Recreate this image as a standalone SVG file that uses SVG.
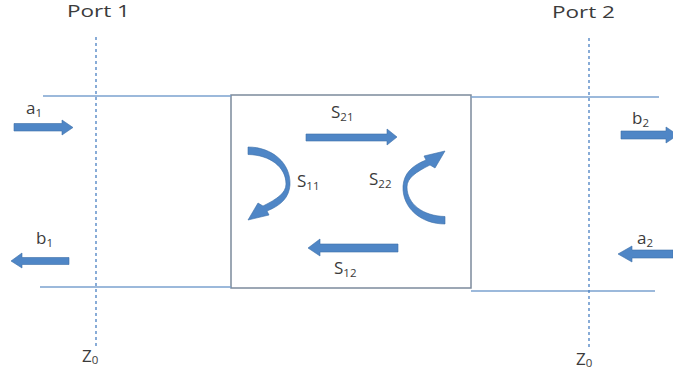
<svg xmlns="http://www.w3.org/2000/svg" width="673" height="378" viewBox="0 0 673 378">
<style>
text{font-family:"Open Sans","Liberation Sans",sans-serif;fill:#3b3b3b;font-size:17px}
.sub{font-size:11.5px}
.tl{stroke:#7ba2cf;stroke-width:1.3;fill:none}
.dash{stroke:#4a80c2;stroke-width:1.3;stroke-dasharray:3 3;fill:none}
.arr{fill:#4f86c6;stroke:#3d6ea8;stroke-width:0.6}
.box{fill:none;stroke:#7c8a9c;stroke-width:1.5}
</style>
<defs>
<path id="curv" class="arr" d="M248,147 C272,147 291,163 290,185 C289,197 282,205 267,211 L269,215 L248,220 L258,203 L263,206 C277,199 286,193 286,184 C286,167 270,155 248,154.5 Z"/>
</defs>
<rect width="673" height="378" fill="#fff"/>
<g id="network">
<rect class="box" x="231" y="95" width="240" height="193"/>
</g>
<g id="connectors">
<line class="tl" x1="43" y1="96" x2="231" y2="96"/>
<line class="tl" x1="471" y1="97" x2="659" y2="97"/>
<line class="tl" x1="40" y1="287" x2="231" y2="287"/>
<line class="tl" x1="471" y1="291" x2="655" y2="291"/>
<line class="dash" x1="96" y1="37" x2="96" y2="348"/>
<line class="dash" x1="589" y1="38" x2="589" y2="350"/>
<polygon id="arr-a1" class="arr" points="14,123.5 62,123.5 62,120 73,127.5 62,135 62,131 14,131"/>
<polygon id="arr-b1" class="arr" points="69,257.5 22,257.5 22,253 11,261 22,268 22,264.5 69,264.5"/>
<polygon id="arr-b2" class="arr" points="621,131 666,131 666,127 678,135 666,143 666,139 621,139"/>
<polygon id="arr-a2" class="arr" points="673,250 632,250 632,246 618,254 632,262 632,258 673,258"/>
<polygon id="arr-s21" class="arr" points="306,134 387,134 387,129 397,137 387,145 387,141 306,141"/>
<polygon id="arr-s12" class="arr" points="398,244 320,244 320,239 308,248 320,256 320,252 398,252"/>
<use id="arr-s11" href="#curv"/>
<use id="arr-s22" href="#curv" transform="rotate(180 346.5 185.5)"/>
</g>
<g id="port1"><text x="67" y="17" textLength="63" lengthAdjust="spacingAndGlyphs">Port 1</text></g>
<g id="port2"><text x="552" y="18" textLength="63" lengthAdjust="spacingAndGlyphs">Port 2</text></g>
<g id="s-labels">
<text x="331" y="118">S<tspan class="sub" dy="3">21</tspan></text>
<text x="297" y="187">S<tspan class="sub" dy="3">11</tspan></text>
<text x="369" y="185">S<tspan class="sub" dy="3">22</tspan></text>
<text x="334" y="274">S<tspan class="sub" dy="3">12</tspan></text>
</g>
<g id="labels">
<text x="26" y="114">a<tspan class="sub" dy="3">1</tspan></text>
<text x="36" y="244">b<tspan class="sub" dy="3">1</tspan></text>
<text x="632" y="124">b<tspan class="sub" dy="3">2</tspan></text>
<text x="637" y="244">a<tspan class="sub" dy="3">2</tspan></text>
<text x="82" y="362">Z<tspan class="sub" dy="2">0</tspan></text>
<text x="576" y="365">Z<tspan class="sub" dy="2">0</tspan></text>
</g>
</svg>
